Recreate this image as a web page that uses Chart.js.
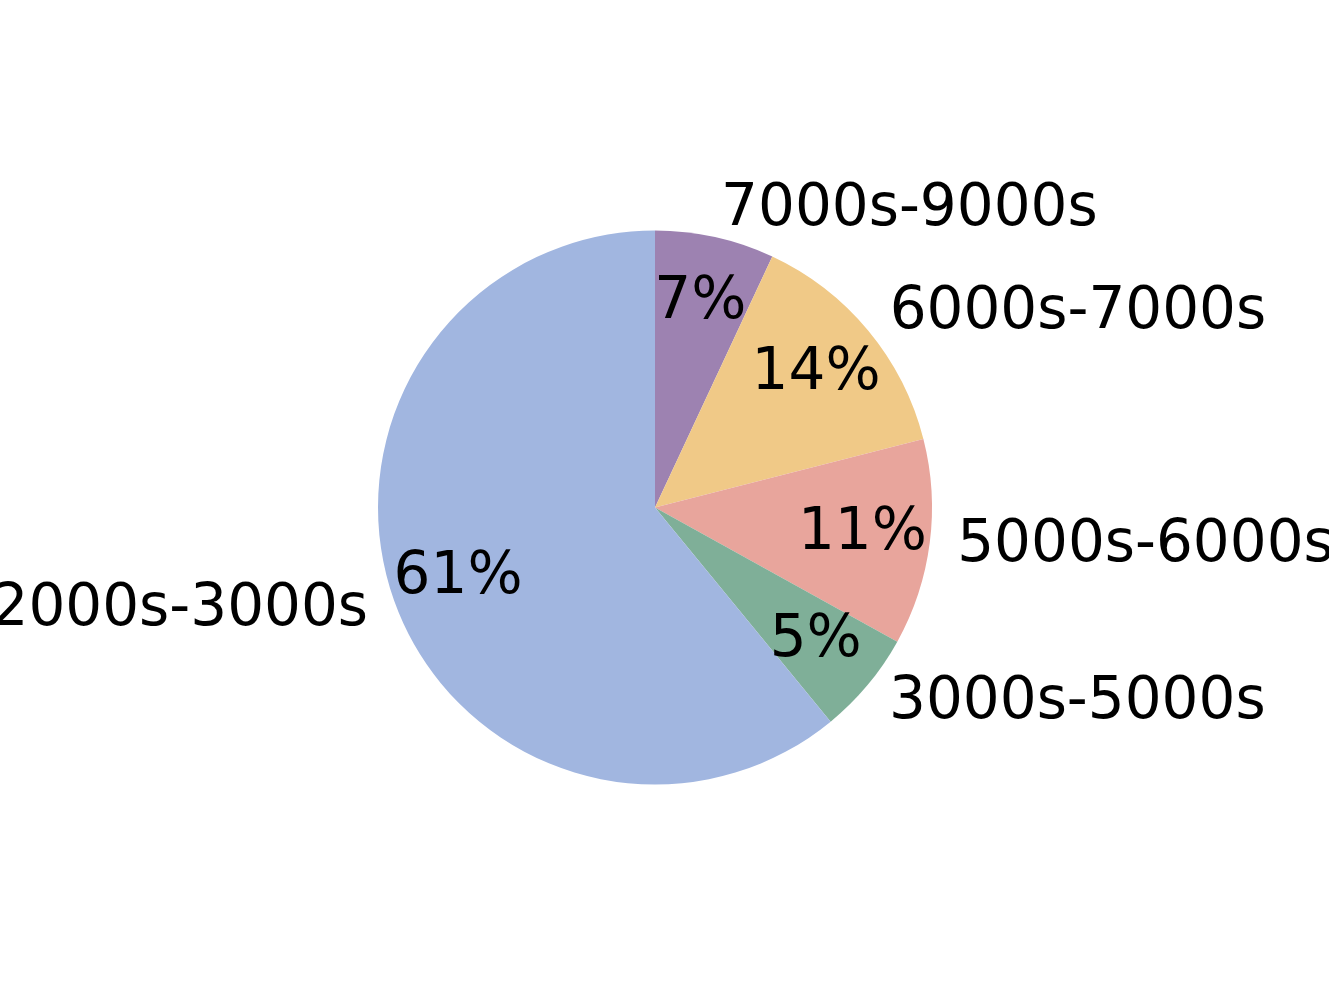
<!DOCTYPE html>
<html>
<head>
<meta charset="utf-8">
<script src="https://cdn.jsdelivr.net/npm/chart.js@4.4.1/dist/chart.umd.min.js"></script>
<style>
  html, body { margin: 0; padding: 0; background: #fff; }
  #wrap { width: 1329px; height: 997px; }
</style>
</head>
<body>
<div id="wrap"><canvas id="pie" width="1329" height="997"></canvas></div>
<script>
// slices go clockwise from 12 o'clock
const labels = ['7000s-9000s', '6000s-7000s', '5000s-6000s', '3000s-5000s', '2000s-3000s'];
const shares = [6.96, 14.06, 12.03, 6.02, 60.93];
const pctLabels = ['7%', '14%', '11%', '5%', '61%'];
const colors = ['#9d82b1', '#f0c987', '#e8a59c', '#7faf98', '#a1b6e0'];

const FONT = '58px "DejaVu Sans"';
const PCT_DIST = 0.755, LABEL_DIST = 1.1;

const sliceText = {
    id: 'sliceText',
    afterDatasetsDraw(chart) {
        const ctx = chart.ctx, arcs = chart.getDatasetMeta(0).data;
        ctx.save();
        ctx.font = FONT; ctx.fillStyle = '#000'; ctx.textBaseline = 'alphabetic';
        arcs.forEach((a, i) => {
            const mid = (a.startAngle + a.endAngle) / 2, c = Math.cos(mid), s = Math.sin(mid), r = a.outerRadius;
            // percent inside
            ctx.textAlign = 'center';
            ctx.fillText(pctLabels[i], a.x + c * r * PCT_DIST, a.y + s * r * PCT_DIST + 15);
            // category outside
            ctx.textAlign = c >= 0 ? 'left' : 'right';
            ctx.fillText(labels[i], a.x + c * r * LABEL_DIST, a.y + s * r * LABEL_DIST + 15);
        });
        ctx.restore();
    }
};

new Chart(document.getElementById('pie'), {
    type: 'pie',
    data: { labels, datasets: [{ data: shares, backgroundColor: colors, borderWidth: 0, hoverBorderWidth: 0, hoverOffset: 0, offset: 0 }] },
    options: {
        responsive: false, animation: false, events: [],
        layout: { padding: { left: 378, right: 397, top: 230.5, bottom: 212.5 } },
        plugins: { legend: { display: false }, tooltip: { enabled: false } }
    },
    plugins: [sliceText]
});
</script>
</body>
</html>
